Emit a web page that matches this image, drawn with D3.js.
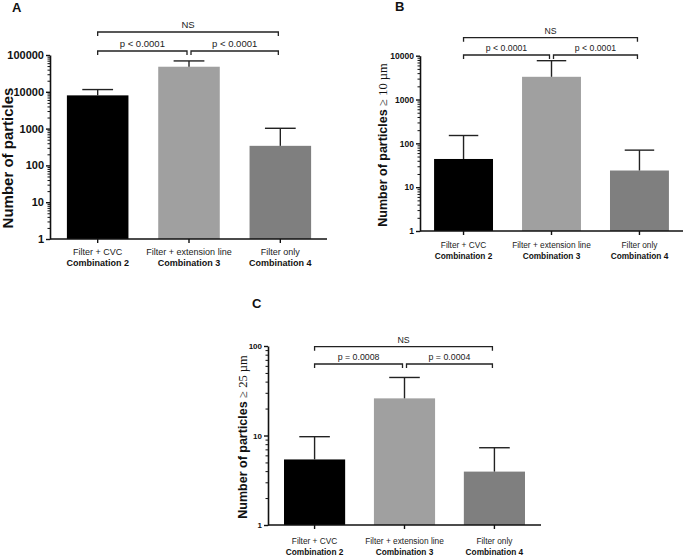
<!DOCTYPE html>
<html><head><meta charset="utf-8">
<script src="https://cdn.jsdelivr.net/npm/d3@7"></script>
<style>body{margin:0;background:#fff} svg{display:block}</style>
</head><body>
<svg id="chart" width="685" height="555"></svg>
<script>
// ---------- data ----------
const groups = ["Filter + CVC", "Filter + extension line", "Filter only"];
const combos = ["Combination 2", "Combination 3", "Combination 4"];
const barColors = ["#000000", "#a0a0a0", "#7f7f7f"];

const meanA = [8000, 48000, 340];
const sdA = [3500, 21000, 680];
const meanB = [44, 3300, 24];
const sdB = [107, 4400, 46];
const meanC = [5.4, 26, 3.95];
const sdC = [4.3, 18.5, 3.35];

const ticksA = [1, 10, 100, 1000, 10000, 100000];
const ticksB = [1, 10, 100, 1000, 10000];
const ticksC = [1, 10, 100];

const statsA = ["p < 0.0001", "p < 0.0001", "NS"];
const statsB = ["p < 0.0001", "p < 0.0001", "NS"];
const statsC = ["p = 0.0008", "p = 0.0004", "NS"];

const titleA = "Number of particles";
const titleB = ["Number of particles ", "\u2265 10 \u00b5m"];
const titleC = ["Number of particles ", "\u2265 25 \u00b5m"];

// ---------- drawing ----------
const SANS = "'Liberation Sans', Arial, Helvetica, sans-serif";
const SERIF = "'Liberation Serif', 'Times New Roman', serif";
const svg = d3.select("#chart");

function panel(cfg) {
  const g = svg.append("g");
  const x = d3.scaleBand().domain(groups).range([cfg.x0, cfg.x1])
    .paddingInner(cfg.pi).paddingOuter(cfg.po);
  const y = d3.scaleLog().domain([1, d3.max(cfg.ticks)]).range([cfg.yBot, cfg.yTop]);

  // panel letter
  g.append("text").attr("x", cfg.lx).attr("y", cfg.ly)
    .attr("font-family", SANS).attr("font-weight", "bold").attr("font-size", 13)
    .attr("fill", "#111").text(cfg.letter);

  const rows = groups.map((k, i) => ({k, i, m: cfg.mean[i], s: cfg.sd[i]}));

  // bars
  g.selectAll("rect.bar").data(rows).join("rect").attr("class", "bar")
    .attr("x", d => x(d.k)).attr("width", x.bandwidth())
    .attr("y", d => y(d.m)).attr("height", d => y(1) - y(d.m))
    .attr("fill", d => barColors[d.i]);

  // error bars (upper only)
  const cx = d => x(d.k) + x.bandwidth() / 2;
  const cap = x.bandwidth() / 4;
  g.selectAll("line.stem").data(rows).join("line").attr("class", "stem")
    .attr("x1", cx).attr("x2", cx)
    .attr("y1", d => y(d.m)).attr("y2", d => y(d.m + d.s))
    .attr("stroke", "#222").attr("stroke-width", 1.4);
  g.selectAll("line.cap").data(rows).join("line").attr("class", "cap")
    .attr("x1", d => cx(d) - cap).attr("x2", d => cx(d) + cap)
    .attr("y1", d => y(d.m + d.s)).attr("y2", d => y(d.m + d.s))
    .attr("stroke", "#222").attr("stroke-width", 1.4);

  // y axis: major + minor ticks
  const minor = [];
  cfg.ticks.slice(0, -1).forEach(t => { for (let k = 2; k <= 9; k++) minor.push(t * k); });
  const yMinor = g.append("g").attr("transform", `translate(${cfg.x0},0)`)
    .call(d3.axisLeft(y).tickValues(minor).tickSize(2.5).tickSizeOuter(0).tickFormat(""));
  yMinor.select(".domain").remove();
  yMinor.selectAll("line").attr("stroke", "#111").attr("stroke-width", 1);
  const yAx = g.append("g").attr("transform", `translate(${cfg.x0},0)`)
    .call(d3.axisLeft(y).tickValues(cfg.ticks).tickSize(4).tickSizeOuter(0).tickPadding(2)
      .tickFormat(d3.format("d")));
  yAx.select(".domain").attr("stroke", "#111").attr("stroke-width", 1.6);
  yAx.selectAll("line").attr("stroke", "#111").attr("stroke-width", 1.4);
  yAx.selectAll("text").attr("font-family", SANS).attr("font-weight", "bold")
    .attr("font-size", cfg.tickFont).attr("fill", "#111");

  // x axis
  const xAx = g.append("g").attr("transform", `translate(0,${cfg.yBot})`)
    .call(d3.axisBottom(x).tickSize(4).tickSizeOuter(0).tickFormat(""));
  xAx.select(".domain").attr("d", `M${cfg.x0},0H${cfg.xEnd}`)
    .attr("stroke", "#111").attr("stroke-width", 1.6);
  xAx.selectAll("line").attr("stroke", "#111").attr("stroke-width", 1.4);

  // category labels
  g.selectAll("text.cat").data(rows).join("text").attr("class", "cat")
    .attr("x", cx).attr("y", cfg.yBot + cfg.xl1).attr("text-anchor", "middle")
    .attr("font-family", SANS).attr("font-size", cfg.xFont).attr("fill", "#222")
    .text(d => d.k);
  g.selectAll("text.comb").data(rows).join("text").attr("class", "comb")
    .attr("x", cx).attr("y", cfg.yBot + cfg.xl2).attr("text-anchor", "middle")
    .attr("font-family", SANS).attr("font-weight", "bold").attr("font-size", cfg.xFont)
    .attr("fill", "#111").text(d => combos[d.i]);

  // y title
  const t = g.append("text")
    .attr("transform", `translate(${cfg.tx},${cfg.ty}) rotate(-90)`)
    .attr("text-anchor", "middle").attr("font-family", SANS)
    .attr("font-size", cfg.titleSize).attr("fill", "#111");
  if (typeof cfg.title === "string") {
    t.attr("font-weight", "bold").text(cfg.title);
  } else {
    t.append("tspan").attr("font-weight", "bold").text(cfg.title[0]);
    t.append("tspan").attr("font-family", SERIF).text(cfg.title[1]);
  }

  // significance brackets
  const c = rows.map(cx);
  const br = [
    {a: c[0], b: c[1] - 2, yy: cfg.pY, lab: cfg.stats[0]},
    {a: c[1] + 2, b: c[2] - 2, yy: cfg.pY, lab: cfg.stats[1]},
    {a: c[0], b: c[2] - 2, yy: cfg.nsY, lab: cfg.stats[2]}
  ];
  g.selectAll("path.br").data(br).join("path").attr("class", "br")
    .attr("d", d => `M${d.a},${d.yy + 4}V${d.yy}H${d.b}V${d.yy + 4}`)
    .attr("fill", "none").attr("stroke", "#222").attr("stroke-width", 1.3);
  g.selectAll("text.br").data(br).join("text").attr("class", "br")
    .attr("x", d => (d.a + d.b) / 2).attr("y", d => d.yy - 4)
    .attr("text-anchor", "middle").attr("font-family", SANS)
    .attr("font-size", cfg.statFont).attr("fill", "#222").text(d => d.lab);
}

panel({letter: "A", lx: 12, ly: 12, x0: 50, x1: 328, xEnd: 327, pi: 0.326, po: 0.185,
  yTop: 55, yBot: 239, ticks: ticksA, mean: meanA, sd: sdA, tickFont: 11, xFont: 9,
  xl1: 16, xl2: 27, title: titleA, tx: 12.5, ty: 158, titleSize: 15,
  stats: statsA, nsY: 32, pY: 51, statFont: 9.5});

panel({letter: "B", lx: 395, ly: 11, x0: 420, x1: 683, xEnd: 683, pi: 0.33, po: 0.16,
  yTop: 55.7, yBot: 231, ticks: ticksB, mean: meanB, sd: sdB, tickFont: 8.5, xFont: 8.3,
  xl1: 17, xl2: 28, title: titleB, tx: 387, ty: 145, titleSize: 12.5,
  stats: statsB, nsY: 37.7, pY: 55, statFont: 8.7});

panel({letter: "C", lx: 252, ly: 308, x0: 268, x1: 541, xEnd: 541, pi: 0.32, po: 0.178,
  yTop: 346, yBot: 525, ticks: ticksC, mean: meanC, sd: sdC, tickFont: 8, xFont: 8.3,
  xl1: 19, xl2: 29.5, title: titleC, tx: 247, ty: 437, titleSize: 12.5,
  stats: statsC, nsY: 346.7, pY: 364, statFont: 8.8});
</script>
</body></html>
